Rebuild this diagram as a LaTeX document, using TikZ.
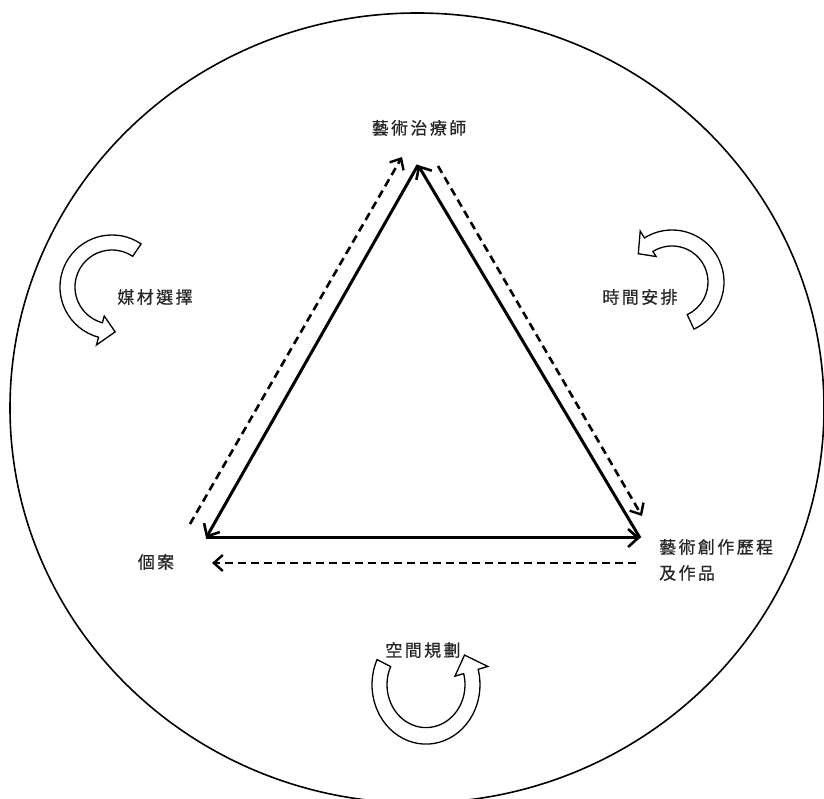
\documentclass[tikz,border=0pt]{standalone}
\usepackage{fontspec}
\newfontfamily\cjk[LetterSpace=14,FakeBold=0.6]{Noto Sans CJK TC}
\usetikzlibrary{arrows.meta}
\newcommand{\blockarc}[9]{%
  % #1 center, #2 inner r, #3 outer R, #4 start, #5 end, #6 wing in r, #7 wing out r, #8 tip angle, #9 tip r
  \begin{scope}[shift={#1}]
    \draw[blockarrow] (#4:#3) arc[start angle=#4, end angle=#5, radius=#3]
      -- (#5:#7) -- (#8:#9) -- (#5:#6) -- (#5:#2)
      arc[start angle=#5, end angle=#4, radius=#2] -- cycle;
  \end{scope}}
\begin{document}
\begin{tikzpicture}[x=1pt,y=1pt,
  lab/.style={font=\cjk\fontsize{17}{26}\selectfont, inner sep=0pt, text=black!85},
  solidarrow/.style={line width=3pt, -{Straight Barb[length=10pt,width=18pt,line width=2.6pt]}},
  dasharrow/.style={line width=2.6pt, dash pattern=on 8pt off 5pt, -{Straight Barb[length=9pt,width=16pt,line width=2.4pt]}},
  blockarrow/.style={draw, line width=1.3pt, fill=white, line join=miter}]
\useasboundingbox (0,0) rectangle (824,798);
\fill[white] (0,0) rectangle (824,798);
% outer ellipse
\draw[line width=1.6pt] (417,390) ellipse[x radius=407, y radius=395];
% triangle vertices
\coordinate (T) at (418,633);
\coordinate (BL) at (206,260);
\coordinate (BR) at (640,260);
\draw[solidarrow] (T) -- (BL);
\draw[solidarrow] (BL) -- (BR);
\draw[solidarrow] (BR) -- (T);
% dashed arrows
\coordinate (dl1) at (190,274);
\coordinate (dl2) at (402,641);
\coordinate (dr1) at (438,632);
\coordinate (dr2) at (642,282);
\coordinate (db1) at (636,235);
\coordinate (db2) at (212,235);
\draw[dasharrow] (dl1) -- (dl2);
\draw[dasharrow] (dr1) -- (dr2);
\draw[dasharrow] (db1) -- (db2);
% labels
\node[lab] (ther) at (419,670) {藝術治療師};
\node[lab] (case) at (156,236) {個案};
\node[lab, anchor=west, align=left] (work) at (659,238) {藝術創作歷程\\及作品};
\node[lab] (media) at (155,501) {媒材選擇};
\node[lab] (time) at (640,501) {時間安排};
\node[lab] (space) at (423,148) {空間規劃};
% curved block arrows
\blockarc{(112,511)}{37}{52}{56}{255}{30}{60}{274}{45}
\blockarc{(672,516)}{36}{52}{-65}{122}{30}{60}{140}{44}
\begin{scope}[yscale=1.1, shift={(0,-11)}]
\blockarc{(426,114)}{39}{54}{155}{375}{30}{64}{395}{47}
\end{scope}
\end{tikzpicture}
\end{document}
